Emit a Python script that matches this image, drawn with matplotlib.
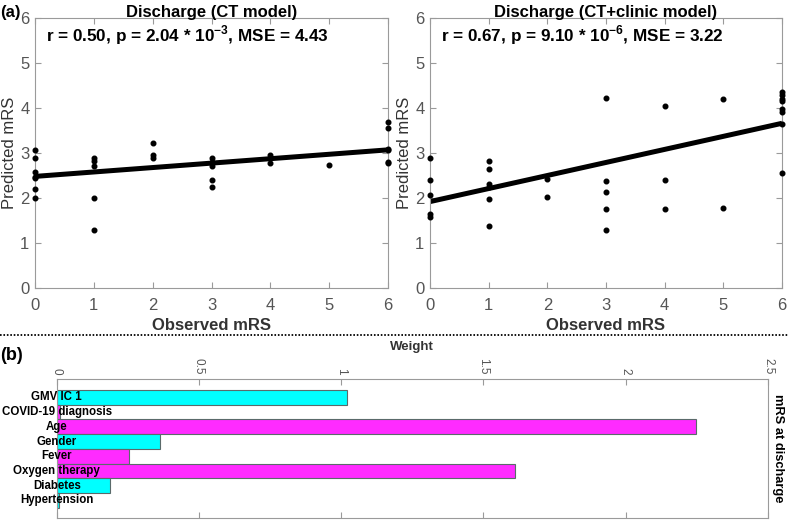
import matplotlib
matplotlib.use("Agg")
import matplotlib.pyplot as plt
import numpy as np

plt.rcParams['font.family'] = ['Liberation Sans', 'DejaVu Sans']
plt.rcParams['mathtext.fontset'] = 'custom'
plt.rcParams['mathtext.rm'] = 'Liberation Sans'
plt.rcParams['mathtext.bf'] = 'Liberation Sans:bold'

# ---------------- data ----------------
obs_ct = [0]*7 + [1]*5 + [2]*3 + [3]*5 + [4]*2 + [5] + [6]*6
pred_ct = [3.07, 2.88, 2.58, 2.47, 2.44, 2.21, 1.99,
           2.88, 2.82, 2.72, 1.99, 1.28,
           3.22, 2.96, 2.88,
           2.90, 2.81, 2.72, 2.40, 2.24,
           2.96, 2.77,
           2.73,
           3.68, 3.55, 3.10, 3.07, 2.81, 2.78]
fit_ct = [2.48, 3.07]  # predicted at observed 0 and 6

obs_cc = [0]*5 + [1]*6 + [2]*2 + [3]*5 + [4]*3 + [5]*2 + [6]*8
pred_cc = [2.90, 2.39, 2.07, 1.64, 1.57,
           2.82, 2.64, 2.31, 2.25, 1.98, 1.38,
           2.42, 2.03,
           4.23, 2.38, 2.13, 1.75, 1.29,
           4.04, 2.40, 1.76,
           4.20, 1.77,
           4.36, 4.29, 4.21, 4.16, 3.97, 3.92, 3.65, 2.56]
fit_cc = [1.92, 3.66]
fit_x = [0, 6]

titles = ['Discharge (CT model)', 'Discharge (CT+clinic model)']
stats = [r'r = 0.50, p = 2.04 * 10$^{\mathbf{-3}}$, MSE = 4.43',
         r'r = 0.67, p = 9.10 * 10$^{\mathbf{-6}}$, MSE = 3.22']

features = ['GMV IC 1', 'COVID-19 diagnosis', 'Age', 'Gender', 'Fever',
            'Oxygen therapy', 'Diabetes', 'Hypertension']
weights = [1.02, 0.012, 2.247, 0.362, 0.255, 1.61, 0.186, 0.008]
groups = ['CT', 'clinic', 'clinic', 'CT', 'clinic', 'clinic', 'CT', 'CT']
group_colors = {'CT': '#00FFFF', 'clinic': '#FF2BFF'}
weight_ticks = [0, 0.5, 1, 1.5, 2, 2.5]
weight_ticklabels = ['0', '0.5', '1', '1.5', '2', '2.5']

# ---------------- figure ----------------
W, H = 789, 521
fig = plt.figure(figsize=(W/100, H/100), dpi=100)

def box(l, t, r, b):
    return [l/W, 1 - b/H, (r - l)/W, (b - t)/H]

spine_c = '#9a9a9a'
tick_c = '#555555'

axL = fig.add_axes(box(35, 18, 388, 288))
axR = fig.add_axes(box(430, 18, 782, 288))
for ax, xo, yo, fit, title, st in [(axL, obs_ct, pred_ct, fit_ct, titles[0], stats[0]),
                                    (axR, obs_cc, pred_cc, fit_cc, titles[1], stats[1])]:
    ax.plot(fit_x, fit, color='black', lw=3.6, solid_capstyle='butt', zorder=2)
    ax.scatter(xo, yo, s=11, color='black', zorder=3, clip_on=False)
    ax.set_xlim(0, 6)
    ax.set_ylim(0, 6)
    ax.set_xticks(range(7))
    ax.set_yticks(range(7))
    ax.tick_params(direction='in', length=4, top=True, right=True,
                   labelsize=12, colors=spine_c, labelcolor=tick_c, width=0.8, pad=4)
    ax.tick_params(axis='x', pad=7)
    for s in ax.spines.values():
        s.set_color(spine_c)
        s.set_linewidth(0.8)
    ax.set_title(title, fontsize=12, fontweight='bold', pad=1)
    ax.set_xlabel('Observed mRS', fontsize=12, fontweight='bold', color='#333333', labelpad=4)
    ax.set_ylabel('Predicted mRS', fontsize=12, color='#333333', labelpad=2)
    ax.text(0.03, 0.935, st, transform=ax.transAxes, fontsize=12.3, fontweight='bold',
            ha='left', va='center')

fig.text(0.0, 1 - 12/H, '(a)', fontsize=12, fontweight='bold', ha='left', va='center')
fig.text(0.0, 1 - 355/H, '(b)', fontsize=13, fontweight='bold', ha='left', va='center')
fig.add_artist(plt.Line2D([0, 1], [1 - 335/H, 1 - 335/H], color='black', lw=1.3,
                          linestyle=(0, (0.9, 1.0)), transform=fig.transFigure))

axB = fig.add_axes(box(56.7, 379, 768, 518))
pos = np.arange(1, len(features) + 1)
colors = [group_colors[g] for g in groups]
axB.barh(pos, weights, height=1.0, color=colors, edgecolor='#5a6a6a', linewidth=0.8)
axB.set_xlim(0, 2.5)
axB.set_ylim(9.2, -0.25)
axB.set_yticks([])
axB.set_xticks(weight_ticks)
axB.set_xticklabels(weight_ticklabels)
axB.tick_params(axis='x', direction='in', length=4, top=True, bottom=True,
                labeltop=True, labelbottom=False, labelsize=8.5, colors=spine_c,
                labelcolor=tick_c, labelrotation=-90, pad=3)
for s in axB.spines.values():
    s.set_color(spine_c)
    s.set_linewidth(0.8)
axB.xaxis.set_label_position('top')
axB.set_xlabel('Weight', fontsize=9.5, fontweight='bold', color='#333333', labelpad=6)
axB.yaxis.set_label_position('right')
axB.set_ylabel('mRS at discharge', fontsize=9.3, fontweight='bold', rotation=-90,
               va='bottom', labelpad=3)
for p, name in zip(pos, features):
    axB.text(0, p, name, ha='center', va='center', fontsize=8.3, fontweight='bold', zorder=5)

fig.savefig('out.png', dpi=100)
